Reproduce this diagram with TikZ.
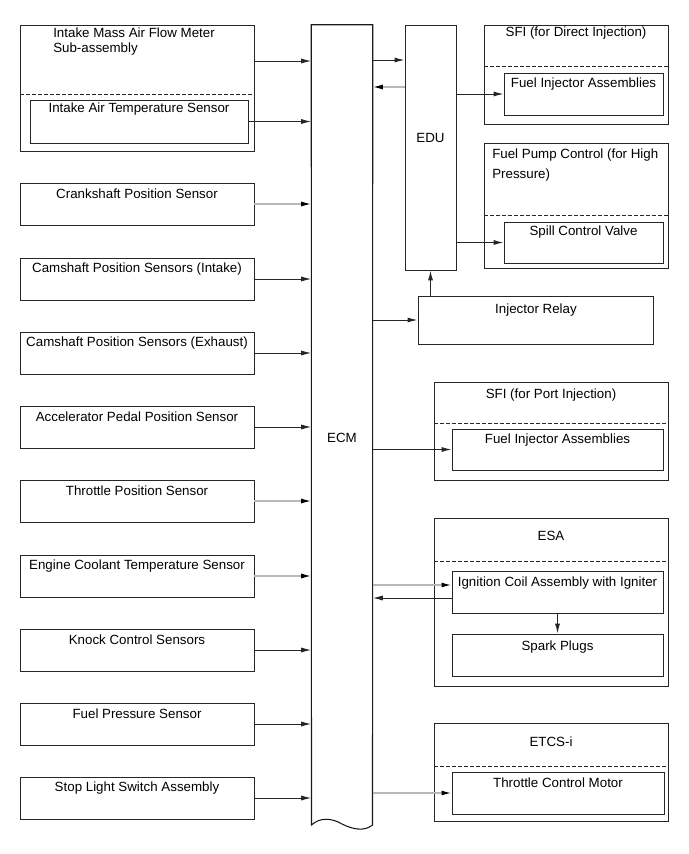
\documentclass[tikz,border=0pt]{standalone}
\usepackage{fontspec}
\setmainfont{Liberation Sans}
\usetikzlibrary{arrows.meta,fit,calc}
\begin{document}
\begin{tikzpicture}[x=0.75pt,y=-0.75pt,
  box/.style={draw=black!85,line width=0.7pt,inner sep=0pt},
  outl/.style={draw=black!90,line width=0.8pt},
  txt/.style={font=\fontsize{10}{12}\selectfont,inner sep=0pt,text=black},
  arr/.style={draw=black!85,line width=0.75pt,-{Latex[length=7.5pt,width=3.8pt]}},
  garr/.style={draw=black!28,line width=1.1pt,-{Latex[length=7.5pt,width=3.8pt,color=black]}},
  dsh/.style={draw=black!85,line width=0.7pt,dash pattern=on 3pt off 1.5pt}]
\useasboundingbox (0,0) rectangle (689,854);

% level coordinates
\coordinate (y60) at (0,60);
\coordinate (y61) at (0,61);
\coordinate (y87) at (0,87);
\coordinate (y585) at (0,585);
\coordinate (y598) at (0,598);

% ECM
\node[fit={(311.5,25)(372.5,825)},inner sep=0pt] (ecm) {};
\draw[outl] (ecm.north west) -- (ecm.north east) -- (372.5,825)
  .. controls (364,832) and (352,829) .. (342,824)
  .. controls (332,818) and (320,817) .. (311.5,825) -- cycle;
\node[txt] (ecmt) at (342,438) {ECM};

% Intake MAF
\node[box,fit={(20,25)(254,151)}] (maf) {};
\node[txt,anchor=west] (maft1) at (53,33) {Intake Mass Air Flow Meter};
\node[txt,anchor=west] (maft2) at (53,49) {Sub-assembly};
\draw[dsh] (20,94) -- (254,94);
\node[box,fit={(30,100)(248,143)}] (iat) {};
\node[txt] (iatt) at (139,109) {Intake Air Temperature Sensor};
\draw[arr] (maf.east |- y61) -- (ecm.west |- y61);
\draw[arr] (iat.east) -- (iat.east -| ecm.west);

% Left sensor boxes
\foreach \nm/\tx/\y/\st in {
  crank/Crankshaft Position Sensor/183/garr,
  camin/Camshaft Position Sensors (Intake)/258/arr,
  camex/Camshaft Position Sensors (Exhaust)/332/arr,
  accel/Accelerator Pedal Position Sensor/406/arr,
  thr/Throttle Position Sensor/480/garr,
  ect/Engine Coolant Temperature Sensor/555/garr,
  knock/Knock Control Sensors/629/arr,
  fps/Fuel Pressure Sensor/703/arr,
  stop/Stop Light Switch Assembly/777/arr}{
  \node[box,fit={(20,\y)(254,{\y+42})}] (\nm) {};
  \node[txt] (\nm t) at (137,{\y+11}) {\tx};
  \draw[\st] (\nm.east) -- (\nm.east -| ecm.west);
}

% EDU
\node[box,fit={(405,25)(456,270)}] (edu) {};
\node[txt] (edut) at (430.5,138) {EDU};
\draw[arr] (ecm.east |- y60) -- (edu.west |- y60);
\draw[garr] (edu.west |- y87) -- (ecm.east |- y87);

% SFI direct
\node[box,fit={(484,25)(668,124)}] (sfid) {};
\node[txt] (sfidt) at (576,33) {SFI (for Direct Injection)};
\draw[dsh] (484,66) -- (668,66);
\node[box,fit={(504,73)(663,115)}] (sfidi) {};
\node[txt] (sfidit) at (583.5,84) {Fuel Injector Assemblies};
\draw[arr] (sfidi.west -| edu.east) -- (sfidi.west);

% Fuel pump control
\node[box,fit={(484,143)(668,268)}] (fpc) {};
\node[txt,anchor=west] (fpct1) at (492,155) {Fuel Pump Control (for High};
\node[txt,anchor=west] (fpct2) at (492,175) {Pressure)};
\draw[dsh] (484,215) -- (668,215);
\node[box,fit={(504,222)(663,263)}] (spill) {};
\node[txt] (spillt) at (583.5,232) {Spill Control Valve};
\draw[arr] (spill.west -| edu.east) -- (spill.west);

% Injector relay
\node[box,fit={(418,296)(653,344)}] (relay) {};
\node[txt] (relayt) at (536,310) {Injector Relay};
\draw[arr] (edu.south |- relay.north) -- (edu.south);
\draw[arr] (relay.west -| ecm.east) -- (relay.west);

% SFI port
\node[box,fit={(434,382)(668,480)}] (sfip) {};
\node[txt] (sfipt) at (551,395) {SFI (for Port Injection)};
\draw[dsh] (434,423) -- (668,423);
\node[box,fit={(452,429)(663,470)}] (sfipi) {};
\node[txt] (sfipit) at (557.5,440) {Fuel Injector Assemblies};
\draw[arr] (sfipi.west -| ecm.east) -- (sfipi.west);

% ESA
\node[box,fit={(434,518)(668,686)}] (esa) {};
\node[txt] (esat) at (551,536) {ESA};
\draw[dsh] (434,561) -- (668,561);
\node[box,fit={(452,571)(663,613)}] (ign) {};
\node[txt] (ignt) at (557.5,583) {Ignition Coil Assembly with Igniter};
\node[box,fit={(452,634)(663,676)}] (spark) {};
\node[txt] (sparkt) at (557.5,647) {Spark Plugs};
\draw[garr] (ecm.east |- y585) -- (ign.west |- y585);
\draw[arr] (ign.west |- y598) -- (ecm.east |- y598);
\draw[arr] (ign.south) -- (spark.north);

% ETCS-i
\node[box,fit={(434,723)(668,821)}] (etcs) {};
\node[txt] (etcst) at (551,742) {ETCS-i};
\draw[dsh] (434,766) -- (668,766);
\node[box,fit={(452,772)(664,814)}] (tcm) {};
\node[txt] (tcmt) at (558,783) {Throttle Control Motor};
\draw[garr] (tcm.west -| ecm.east) -- (tcm.west);
\end{tikzpicture}
\end{document}
